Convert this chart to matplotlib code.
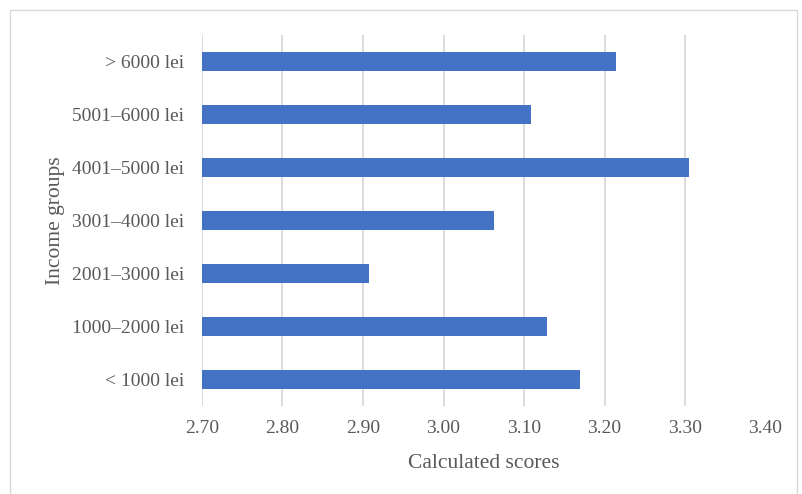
import matplotlib
matplotlib.use("Agg")
import matplotlib.pyplot as plt
from matplotlib.patches import Rectangle

# Income groups, bottom to top
groups = ["< 1000 lei", "1000–2000 lei", "2001–3000 lei", "3001–4000 lei",
          "4001–5000 lei", "5001–6000 lei", "> 6000 lei"]
scores = [3.170, 3.128, 2.908, 3.063, 3.305, 3.109, 3.214]
x_ticks = [2.70, 2.80, 2.90, 3.00, 3.10, 3.20, 3.30, 3.40]

BAR = "#4472C4"
GRID = "#D9D9D9"
TEXT = "#595959"

plt.rcParams["font.family"] = ["Liberation Serif", "DejaVu Serif"]

fig = plt.figure(figsize=(8.03, 4.94), dpi=100)
ax = fig.add_axes([202 / 803, 88 / 494, 563.5 / 803, 371 / 494])

ypos = range(len(groups))
ax.barh(ypos, [s - x_ticks[0] for s in scores], left=x_ticks[0],
        height=0.35, color=BAR, zorder=2)

ax.set_xlim(x_ticks[0], x_ticks[-1])
ax.set_ylim(-0.5, len(groups) - 0.5)
ax.set_xticks(x_ticks)
ax.set_xticklabels([f"{t:.2f}" for t in x_ticks])
ax.set_yticks(list(ypos))
ax.set_yticklabels(groups)
ax.tick_params(axis="both", length=0, labelsize=14, labelcolor=TEXT)
ax.tick_params(axis="x", pad=10)
ax.tick_params(axis="y", pad=13)

ax.grid(axis="x", color=GRID, linewidth=1.3, zorder=0)
for spine in ax.spines.values():
    spine.set_visible(False)

ax.set_xlabel("Calculated scores", fontsize=15.5, color=TEXT, labelpad=12)
ax.set_ylabel("Income groups", fontsize=15.5, color=TEXT, labelpad=5)

# light chart-area frame
fig.patches.append(Rectangle((10 / 803, -0.01), 787 / 803, 1 - 10 / 494 + 0.01,
                             transform=fig.transFigure, fill=False,
                             edgecolor=GRID, linewidth=1.0))

fig.savefig("out.png", dpi=100, facecolor="white")
